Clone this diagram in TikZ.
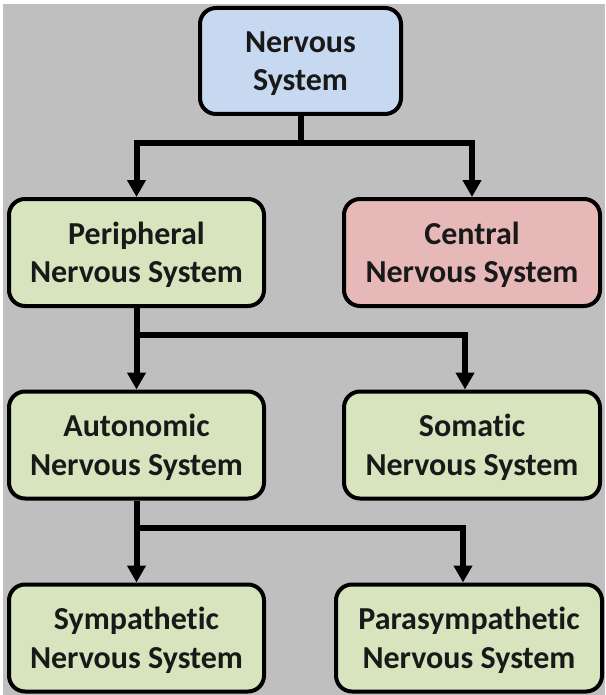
\documentclass[tikz,border=0pt]{standalone}
\usepackage{fontspec}
\setmainfont{Carlito}[RawFeature=-liga]
\usetikzlibrary{arrows.meta}
\definecolor{bggray}{RGB}{191,191,191}
\definecolor{boxblue}{RGB}{198,217,241}
\definecolor{boxgreen}{RGB}{215,228,189}
\definecolor{boxred}{RGB}{230,185,184}
\tikzset{
  sysbox/.style={draw=black, line width=4pt, rounded corners=16pt, align=center,
    font=\bfseries\fontsize{32}{38.5}\selectfont, text=black!90, inner sep=0pt,
    minimum width=255pt, minimum height=107pt, text depth=0pt},
  conn/.style={line width=6pt, draw=black},
  arr/.style={conn, -{Triangle[length=17pt,width=18pt]}},
}
\begin{document}
\begin{tikzpicture}[x=1pt,y=-1pt]
\useasboundingbox (0,0) rectangle (605,695);
\fill[white] (0,0) rectangle (605,695);
\fill[bggray] (3,4) rectangle (605,695);
\node[sysbox, fill=boxblue, minimum width=201pt, minimum height=106pt] (ns) at (300.5,61) {Nervous\\System};
\node[sysbox, fill=boxgreen] (pns) at (136.5,252.5) {Peripheral\\Nervous System};
\node[sysbox, fill=boxred, minimum width=256pt] (cns) at (472,252.5) {Central\\Nervous System};
\node[sysbox, fill=boxgreen] (ans) at (136.5,445) {Autonomic\\Nervous System};
\node[sysbox, fill=boxgreen, minimum width=256pt] (sns) at (472,445) {Somatic\\Nervous System};
\node[sysbox, fill=boxgreen] (sym) at (136.5,638) {Sympathetic\\Nervous System};
\node[sysbox, fill=boxgreen, minimum width=266pt] (par) at (469,638) {Parasympathetic\\Nervous System};
% level 1
\coordinate (j1) at (300.5,143);
\coordinate (l1) at (136.5,143);
\coordinate (r1) at (472,143);
\draw[conn] (ns.south) -- (j1);
\draw[conn, line cap=rect] (l1) -- (r1);
\draw[arr] (l1) -- (pns.north);
\draw[arr] (r1) -- (cns.north);
% level 2
\coordinate (l2) at (136.5,335);
\coordinate (r2) at (465,335);
\draw[conn] (pns.south) -- (l2);
\draw[conn, line cap=rect] (l2) -- (r2);
\draw[arr] (l2) -- (ans.north);
\draw[arr] (r2) -- (r2 |- sns.north);
% level 3
\coordinate (l3) at (136.5,528);
\coordinate (r3) at (463,528);
\draw[conn] (ans.south) -- (l3);
\draw[conn, line cap=rect] (l3) -- (r3);
\draw[arr] (l3) -- (sym.north);
\draw[arr] (r3) -- (r3 |- par.north);
\end{tikzpicture}
\end{document}
